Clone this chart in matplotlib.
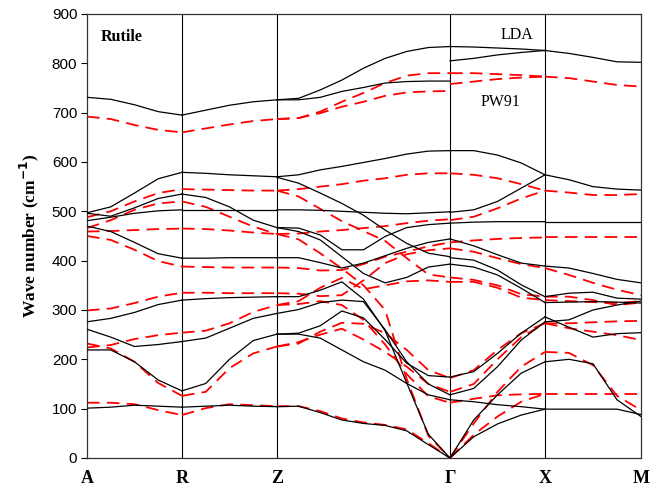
import numpy as np
import matplotlib.pyplot as plt

# high-symmetry points along the path (path length in arbitrary units)
kpoints = ['A', 'R', 'Z', 'Γ', 'X', 'M']
kpos = [0.0, 0.95, 1.90, 3.63, 4.58, 5.54]

# phonon branches (cm-1), each list sampled evenly along its segment
# --- LDA ---
lda_AR = [[731, 727, 716, 702, 695],
          [497, 509, 537, 566, 579],
          [496, 490, 507, 526, 535],
          [481, 488, 496, 501, 503],
          [470, 459, 437, 414, 405],
          [276, 283, 295, 311, 320],
          [261, 245, 226, 230, 236],
          [219, 219, 195, 158, 136],
          [101, 103, 107, 105, 103]]
lda_RZ = [[695, 705, 715, 722, 726],
          [579, 577, 574, 572, 570],
          [535, 528, 509, 482, 467],
          [503, 503, 503, 503, 503],
          [405, 405, 406, 406, 406],
          [320, 323, 325, 326, 327],
          [236, 243, 263, 283, 293],
          [136, 151, 200, 238, 251],
          [103, 105, 107, 105, 104]]
lda_ZG = [[726, 729, 746, 766, 790, 810, 824, 832, 834],
          [726, 726, 731, 743, 751, 760, 763, 764, 764],
          [570, 574, 584, 591, 599, 607, 616, 622, 623],
          [569, 557, 537, 516, 492, 462, 435, 415, 408],
          [503, 503, 502, 500, 498, 496, 495, 497, 499],
          [467, 466, 452, 422, 422, 449, 467, 473, 476],
          [467, 459, 442, 408, 374, 355, 366, 387, 393],
          [406, 406, 396, 385, 395, 410, 425, 437, 444],
          [327, 327, 340, 357, 322, 258, 152, 48, 0],
          [293, 301, 315, 320, 317, 260, 195, 150, 128],
          [251, 253, 268, 298, 284, 240, 192, 167, 164],
          [251, 251, 243, 219, 195, 178, 151, 128, 118],
          [104, 105, 92, 77, 70, 66, 55, 27, 0]]
lda_GX = [[834, 833, 831, 829, 826],
          [805, 810, 817, 822, 826],
          [623, 623, 614, 598, 574],
          [498, 503, 520, 547, 574],
          [476, 478, 479, 479, 479],
          [444, 430, 412, 395, 389],
          [406, 401, 381, 351, 327],
          [393, 387, 371, 344, 315],
          [164, 175, 212, 253, 286],
          [128, 141, 185, 239, 276],
          [118, 114, 108, 104, 99],
          [0, 77, 128, 172, 195],
          [0, 43, 69, 87, 99]]
lda_XM = [[826, 820, 812, 803, 802],
          [574, 564, 550, 545, 543],
          [479, 479, 479, 479, 479],
          [389, 385, 374, 362, 355],
          [327, 334, 336, 324, 322],
          [315, 316, 317, 316, 314],
          [286, 265, 245, 252, 254],
          [276, 280, 300, 310, 318],
          [195, 200, 191, 118, 84],
          [99, 99, 99, 99, 88]]

# --- PW91 ---
pw91_AR = [[692, 687, 675, 665, 660],
           [488, 500, 520, 537, 545],
           [466, 482, 503, 516, 520],
           [459, 460, 462, 464, 465],
           [450, 442, 422, 399, 388],
           [299, 303, 314, 327, 335],
           [232, 222, 195, 152, 126],
           [224, 229, 241, 249, 254],
           [112, 112, 109, 97, 87]]
pw91_RZ = [[660, 668, 676, 683, 687],
           [545, 544, 543, 542, 542],
           [520, 509, 489, 469, 454],
           [465, 464, 461, 457, 454],
           [388, 387, 386, 386, 386],
           [335, 335, 334, 334, 334],
           [126, 134, 182, 212, 226],
           [254, 258, 273, 296, 310],
           [87, 101, 109, 107, 105]]
pw91_ZG = [[687, 689, 702, 722, 740, 760, 775, 780, 780],
           [687, 689, 699, 712, 722, 734, 741, 743, 744],
           [542, 545, 550, 555, 562, 567, 574, 577, 577],
           [542, 530, 505, 480, 460, 440, 405, 372, 366],
           [454, 455, 459, 462, 466, 470, 476, 481, 484],
           [454, 443, 415, 384, 350, 300, 160, 45, 0],
           [386, 385, 380, 381, 393, 408, 418, 429, 437],
           [334, 333, 328, 330, 360, 395, 413, 421, 425],
           [310, 318, 345, 365, 342, 350, 358, 360, 357],
           [310, 312, 318, 310, 280, 230, 170, 125, 112],
           [226, 232, 256, 274, 272, 253, 219, 178, 162],
           [226, 235, 250, 262, 240, 215, 185, 150, 134],
           [105, 105, 95, 80, 72, 67, 58, 30, 0]]
pw91_GX = [[780, 780, 778, 776, 773],
           [758, 763, 768, 771, 773],
           [577, 574, 567, 555, 542],
           [482, 489, 506, 526, 542],
           [437, 441, 444, 446, 447],
           [425, 418, 405, 393, 385],
           [366, 361, 350, 332, 327],
           [357, 357, 345, 325, 320],
           [162, 178, 219, 253, 273],
           [134, 150, 200, 245, 273],
           [112, 120, 127, 129, 130],
           [0, 70, 134, 185, 215],
           [0, 47, 84, 114, 130]]
pw91_XM = [[773, 770, 763, 756, 753],
           [542, 538, 533, 533, 535],
           [447, 447, 447, 447, 447],
           [385, 371, 355, 341, 330],
           [327, 327, 320, 310, 315],
           [320, 318, 316, 314, 318],
           [273, 273, 275, 277, 278],
           [273, 263, 256, 249, 239],
           [215, 213, 188, 126, 97],
           [130, 130, 130, 130, 130]]

lda_segs = [lda_AR, lda_RZ, lda_ZG, lda_GX, lda_XM]
pw91_segs = [pw91_AR, pw91_RZ, pw91_ZG, pw91_GX, pw91_XM]

fig = plt.figure(figsize=(6.67, 4.97), dpi=100)
ax = fig.add_axes([0.1304, 0.0785, 0.8306, 0.8934])

for i in range(len(lda_segs)):
    x0, x1 = kpos[i], kpos[i + 1]
    for band in lda_segs[i]:
        xs = np.linspace(x0, x1, len(band))
        ax.plot(xs, band, color='black', lw=0.9, zorder=3)
    for band in pw91_segs[i]:
        xs = np.linspace(x0, x1, len(band))
        ax.plot(xs, band, color='#ff0000', lw=1.3, dashes=(7, 4), zorder=2)

# vertical lines at the high-symmetry points
for x in kpos[1:-1]:
    ax.axvline(x, color='black', lw=0.8, zorder=1)

ax.set_xlim(kpos[0], kpos[-1])
ax.set_ylim(0, 900)
ax.set_yticks(np.arange(0, 901, 100))
ax.set_xticks(kpos)
ax.set_xticklabels(kpoints, family='Liberation Serif', fontweight='bold', fontsize=13)
ax.tick_params(axis='x', length=0, pad=9)
ax.tick_params(axis='y', direction='out', length=4, width=0.8, labelsize=11, pad=3)
for lab in ax.get_yticklabels():
    lab.set_family('Liberation Sans')
for sp in ax.spines.values():
    sp.set_color('#333333')
    sp.set_linewidth(0.9)

plt.rcParams['mathtext.fontset'] = 'stix'
ax.set_ylabel(r'Wave number (cm$^{\mathbf{-1}}$)', family='Liberation Serif',
              fontweight='bold', fontsize=12.5, labelpad=8)

ax.text(0.137, 854, 'Rutile', family='Liberation Serif', fontweight='bold',
        fontsize=11.5, va='center', ha='left')
ax.text(4.30, 858, 'LDA', family='Liberation Serif', fontsize=11.5, va='center', ha='center')
ax.text(4.14, 722, 'PW91', family='Liberation Serif', fontsize=11.5, va='center', ha='center')

fig.savefig('out.png', dpi=100)
